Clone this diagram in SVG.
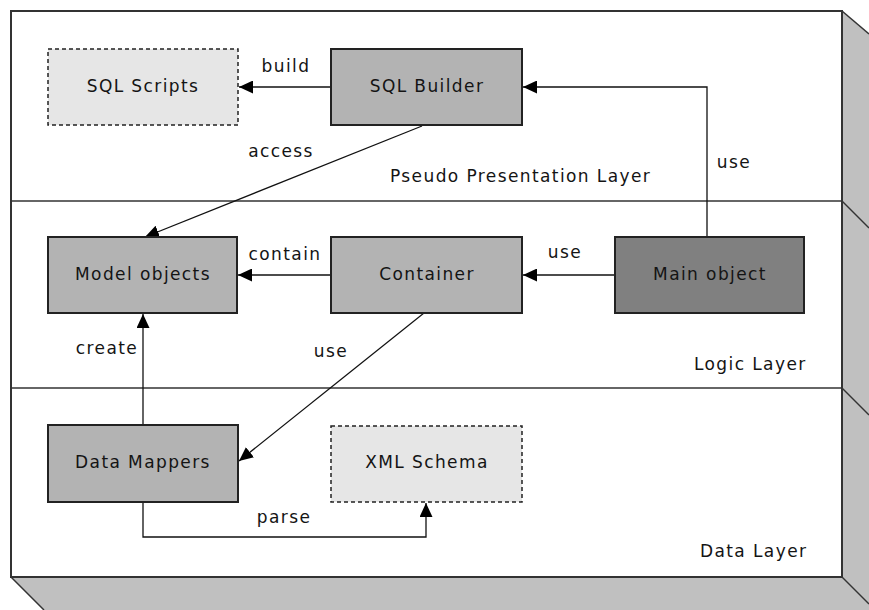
<svg xmlns="http://www.w3.org/2000/svg" width="869" height="610" viewBox="0 0 869 610">
  <style>
    text { font-family: "DejaVu Sans", "Liberation Sans", sans-serif; font-size: 17px; letter-spacing: 1.4px; fill: #141414; }
    .mid { text-anchor: middle; }
    .box { stroke: #222222; stroke-width: 2; }
    .solid { fill: #b3b3b3; }
    .main { fill: #808080; }
    .file { fill: #e6e6e6; stroke: #222222; stroke-width: 1.5; stroke-dasharray: 4 3; }
    .edge { fill: none; stroke: #333333; stroke-width: 1.5; }
    .conn { fill: none; stroke: #111111; stroke-width: 1.3; marker-end: url(#arrow); }
  </style>
  <defs>
    <marker id="arrow" markerUnits="userSpaceOnUse" markerWidth="15" markerHeight="13" refX="14" refY="6.5" orient="auto">
      <path d="M0,0 L14,6.5 L0,13 z" fill="#000000"/>
    </marker>
  </defs>

  <!-- layered block with its extruded sides -->
  <g id="layers">
    <rect x="0" y="0" width="869" height="610" fill="#ffffff"/>
    <polygon points="842,11 869,34 869,610 44,610 11,577 842,577" fill="#c0c0c0"/>
    <rect x="11" y="11" width="831" height="566" fill="#ffffff" stroke="#333333" stroke-width="2"/>
    <line class="edge" x1="11" y1="201" x2="842" y2="201"/>
    <line class="edge" x1="11" y1="388" x2="842" y2="388"/>
    <line class="edge" x1="842" y1="11" x2="869" y2="34"/>
    <line class="edge" x1="842" y1="201" x2="869" y2="228"/>
    <line class="edge" x1="842" y1="388" x2="869" y2="415"/>
    <line class="edge" x1="842" y1="577" x2="869" y2="604"/>
    <line class="edge" x1="11" y1="577" x2="44" y2="610"/>
    <text x="390" y="182">Pseudo Presentation Layer</text>
    <text x="694" y="370">Logic Layer</text>
    <text x="700" y="557">Data Layer</text>
  </g>

  <!-- connectors -->
  <g id="connectors">
    <line class="conn" x1="331" y1="87" x2="239" y2="87"/>
    <line class="conn" x1="422" y1="126" x2="145" y2="237"/>
    <path class="conn" d="M707,237 V87 H523"/>
    <line class="conn" x1="331" y1="275" x2="238" y2="275"/>
    <line class="conn" x1="615" y1="275" x2="523" y2="275"/>
    <line class="conn" x1="143" y1="425" x2="143" y2="314"/>
    <line class="conn" x1="424" y1="313" x2="239" y2="461"/>
    <path class="conn" d="M143,502 V537 H426 V503"/>
    <text class="mid" x="286" y="72">build</text>
    <text class="mid" x="281" y="157">access</text>
    <text class="mid" x="734" y="168">use</text>
    <text class="mid" x="285" y="260">contain</text>
    <text class="mid" x="565" y="258">use</text>
    <text class="mid" x="107" y="354">create</text>
    <text class="mid" x="331" y="357">use</text>
    <text class="mid" x="284" y="523">parse</text>
  </g>

  <!-- nodes -->
  <g id="sql-scripts">
    <rect class="file" x="48" y="49" width="190" height="76"/>
    <text class="mid" x="143" y="92">SQL Scripts</text>
  </g>
  <g id="sql-builder">
    <rect class="box solid" x="331" y="49" width="191" height="76"/>
    <text class="mid" x="427" y="92">SQL Builder</text>
  </g>
  <g id="model-objects">
    <rect class="box solid" x="48" y="237" width="189" height="76"/>
    <text class="mid" x="143" y="280">Model objects</text>
  </g>
  <g id="container">
    <rect class="box solid" x="331" y="237" width="191" height="76"/>
    <text class="mid" x="427" y="280">Container</text>
  </g>
  <g id="main-object">
    <rect class="box main" x="615" y="237" width="189" height="76"/>
    <text class="mid" x="710" y="280">Main object</text>
  </g>
  <g id="data-mappers">
    <rect class="box solid" x="48" y="425" width="190" height="77"/>
    <text class="mid" x="143" y="468">Data Mappers</text>
  </g>
  <g id="xml-schema">
    <rect class="file" x="331" y="426" width="191" height="76"/>
    <text class="mid" x="427" y="468">XML Schema</text>
  </g>
</svg>
